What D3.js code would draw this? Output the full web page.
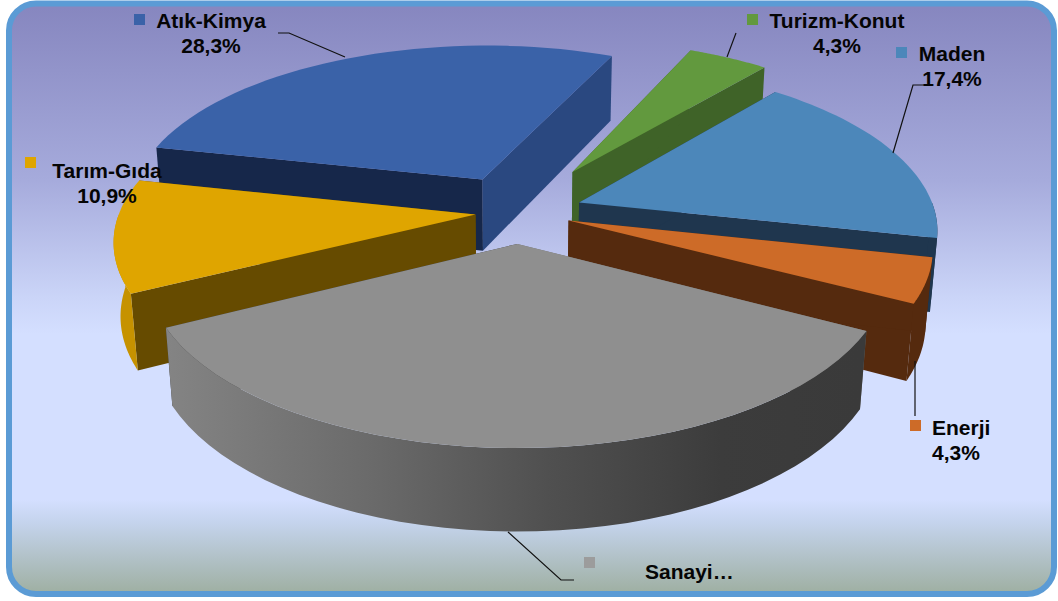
<!DOCTYPE html>
<html>
<head>
<meta charset="utf-8">
<script src="https://cdn.jsdelivr.net/npm/d3@7"></script>
<style>
html, body { margin: 0; padding: 0; background: #fff; }
svg { display: block; }
text { font-family: "Liberation Sans", Arial, sans-serif; font-weight: bold; font-size: 21px; fill: #050505; }
</style>
</head>
<body>
<div id="chart"></div>
<script>
// values, clockwise from Atik-Kimya
var categories = ["Atık-Kimya", "Turizm-Konut", "Maden", "Enerji", "Sanayi…", "Tarım-Gıda"];
var shares = [28.3, 4.3, 17.4, 4.3, 34.8, 10.9];
var percentLabels = ["28,3%", "4,3%", "17,4%", "4,3%", "", "10,9%"];

// how far each slice is pulled out, in pie radii
var explode = [0.23, 0.3, 0.183, 0.15, 0.19, 0.12];

var topColors = ["#3A62A8", "#62993E", "#4C87BA", "#CD6B28", "#8F8F8F", "#DFA500"];
var startFaceColors = ["#16274A", "#3F6328", "#1F364E", "#552A0E", "#6E6E6E", "#664B00"];
var endFaceColors = ["#2A4880", "#3F6328", "#1F364E", "#552A0E", "#3A3A3A", "#664B00"];
var wallColors = ["#2A4880", "#3F6328", "#1F364E", "#552A0E", "url(#grayWall)", "#C69200"];
var legendColors = ["#3A62A8", "#62993E", "#4C87BA", "#CD6B28", "#9C9C9C", "#DFA500"];

// label anchor, legend square and leader line for each slice
var labelX = [211, 837, 952, 932, 645, 107];
var labelY = [28, 28, 61, 435, 579, 178];
var labelAnchor = ["middle", "middle", "middle", "start", "start", "middle"];
var squareX = [134, 747, 896, 910, 584, 25];
var squareY = [14, 14, 47, 420, 557, 157];
var leaders = [
    [[278, 33], [289, 33], [345, 57]],
    [[736, 33], [727, 57]],
    [[926, 85], [913, 85], [893, 153]],
    [[915, 361], [915, 416]],
    [[508, 532], [561, 580], [574, 580]],
    []
];

var width = 1058, height = 601;

// camera for the tilted pie
var cx = 518, cy = 212, scaleU = 356, scaleV = 163;
var perspective = 0.15, depth = 74, depthShrink = 0.017;

function project(u, v, down) {
    var w = 1 + perspective * v + depthShrink * down;
    return [cx + scaleU * u / w, cy + (-scaleV * v + depth * down) / w];
}

var svg = d3.select("#chart")
            .append("svg")
            .attr("width", width)
            .attr("height", height);

var defs = svg.append("defs");

var bg = defs.append("linearGradient")
             .attr("id", "bgFill")
             .attr("x1", 0).attr("y1", 0)
             .attr("x2", 0).attr("y2", 1);
[[0, "#8686BF"], [0.3, "#A6ABDC"], [0.5, "#CBD5F8"], [0.56, "#D4DFFF"],
 [0.84, "#D4DFFF"], [0.88, "#C4D3EC"], [1, "#9EAFA1"]].forEach(function(s) {
    bg.append("stop").attr("offset", s[0]).attr("stop-color", s[1]);
});

var grayWall = defs.append("linearGradient")
                   .attr("id", "grayWall")
                   .attr("gradientUnits", "userSpaceOnUse")
                   .attr("x1", 165).attr("y1", 0)
                   .attr("x2", 860).attr("y2", 0);
[[0, "#848484"], [0.3, "#6A6A6A"], [0.55, "#505050"], [0.8, "#3C3C3C"], [1, "#3A3A3A"]].forEach(function(s) {
    grayWall.append("stop").attr("offset", s[0]).attr("stop-color", s[1]);
});

svg.append("rect")
   .attr("x", 9)
   .attr("y", 3.5)
   .attr("width", 1045)
   .attr("height", 590.5)
   .attr("rx", 27)
   .attr("fill", "url(#bgFill)")
   .attr("stroke", "#5B9BD5")
   .attr("stroke-width", 6);

var pie = d3.pie()
            .sort(null)
            .startAngle(-77.6 * Math.PI / 180)
            .endAngle((360 - 77.6) * Math.PI / 180);

var slices = pie(shares).map(function(d, i) {
    var mid = (d.startAngle + d.endAngle) / 2;
    return {
        index: i,
        a0: d.startAngle,
        a1: d.endAngle,
        u0: explode[i] * Math.sin(mid),
        v0: explode[i] * Math.cos(mid)
    };
});

var line = d3.line();

function rimPoints(s, down, a0, a1) {
    return d3.range(0, 41).map(function(k) {
        var a = a0 + (a1 - a0) * k / 40;
        return project(s.u0 + Math.sin(a), s.v0 + Math.cos(a), down);
    });
}

function radialFace(s, a) {
    var u = s.u0 + Math.sin(a), v = s.v0 + Math.cos(a);
    return [project(s.u0, s.v0, 0), project(u, v, 0), project(u, v, 1), project(s.u0, s.v0, 1)];
}

// only the part of the rim that faces the viewer gets a wall
function wallPath(s) {
    var lo = Math.max(s.a0, Math.PI / 2), hi = Math.min(s.a1, 3 * Math.PI / 2);
    if (hi <= lo) return null;
    return line(rimPoints(s, 0, lo, hi).concat(rimPoints(s, 1, lo, hi).reverse())) + "Z";
}

// far slices first so the near ones paint over them
var ordered = slices.slice().sort(function(a, b) { return b.v0 - a.v0; });

var groups = svg.selectAll("g.slice")
                .data(ordered)
                .enter()
                .append("g")
                .attr("class", "slice");

groups.append("path")
      .attr("d", function(s) { return line(radialFace(s, s.a1)) + "Z"; })
      .attr("fill", function(s) { return endFaceColors[s.index]; });

groups.append("path")
      .attr("d", function(s) { return line(radialFace(s, s.a0)) + "Z"; })
      .attr("fill", function(s) { return startFaceColors[s.index]; });

groups.append("path")
      .attr("d", wallPath)
      .attr("fill", function(s) { return wallColors[s.index]; });

groups.append("path")
      .attr("d", function(s) { return line([project(s.u0, s.v0, 0)].concat(rimPoints(s, 0, s.a0, s.a1))) + "Z"; })
      .attr("fill", function(s) { return topColors[s.index]; });

// leaders, squares and labels
svg.selectAll("path.leader")
   .data(leaders.filter(function(l) { return l.length; }))
   .enter()
   .append("path")
   .attr("class", "leader")
   .attr("d", line)
   .attr("fill", "none")
   .attr("stroke", "#111")
   .attr("stroke-width", 1.2);

svg.selectAll("rect.key")
   .data(categories)
   .enter()
   .append("rect")
   .attr("class", "key")
   .attr("x", function(d, i) { return squareX[i]; })
   .attr("y", function(d, i) { return squareY[i]; })
   .attr("width", 11)
   .attr("height", 11)
   .attr("fill", function(d, i) { return legendColors[i]; });

svg.selectAll("text.name")
   .data(categories)
   .enter()
   .append("text")
   .attr("class", "name")
   .attr("x", function(d, i) { return labelX[i]; })
   .attr("y", function(d, i) { return labelY[i]; })
   .attr("text-anchor", function(d, i) { return labelAnchor[i]; })
   .text(function(d) { return d; });

svg.selectAll("text.pct")
   .data(percentLabels)
   .enter()
   .append("text")
   .attr("class", "pct")
   .attr("x", function(d, i) { return labelX[i]; })
   .attr("y", function(d, i) { return labelY[i] + 25; })
   .attr("text-anchor", function(d, i) { return labelAnchor[i]; })
   .text(function(d) { return d; });
</script>
</body>
</html>
